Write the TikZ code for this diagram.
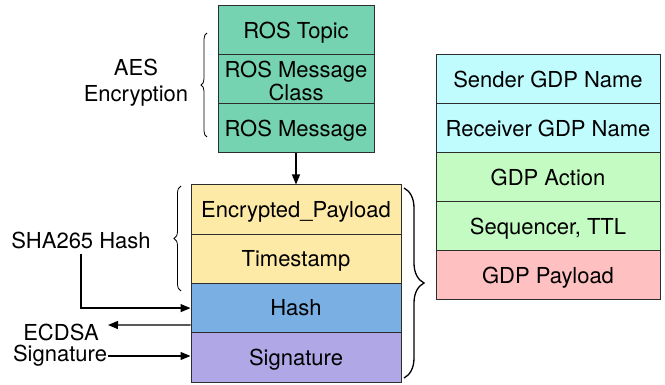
\documentclass[tikz,border=0pt]{standalone}
\usepackage{fontspec}
\setmainfont{TeX Gyre Heros}
\usetikzlibrary{arrows.meta,decorations.pathreplacing}
\definecolor{cteal}{RGB}{118,211,178}
\definecolor{cyel}{RGB}{253,234,166}
\definecolor{cblue}{RGB}{122,175,227}
\definecolor{cpurp}{RGB}{176,168,230}
\definecolor{ccyan}{RGB}{192,252,254}
\definecolor{cgrn}{RGB}{196,251,194}
\definecolor{cpink}{RGB}{254,192,192}
\definecolor{cedge}{RGB}{45,45,45}
\tikzset{
  x=1pt, y=-1pt,
  field/.style={draw=cedge, line width=1pt, inner sep=0pt, minimum height=49.25pt, align=center,
    font=\fontsize{22}{23.5}\selectfont, text height=15.8pt, text depth=0pt},
  tealf/.style={field, fill=cteal, minimum width=156pt, minimum height=49pt},
  yelf/.style={field, minimum width=210pt},
  gdpf/.style={field, minimum width=224pt, minimum height=49pt},
  lbl/.style={inner sep=1pt, align=center, font=\fontsize{22}{26}\selectfont},
  conn/.style={line width=1.2pt, -{Triangle[length=10pt,width=8pt]}},
  bracestyle/.style={decorate, decoration={brace, amplitude=#1}},
}
\begin{document}
\begin{tikzpicture}
\useasboundingbox (0,0) rectangle (665,385);
% ROS stack
\node[tealf] (topic) at (296,30.5) {ROS Topic};
\node[draw=cedge, line width=1pt, fill=cteal, minimum width=156pt, minimum height=49pt] (cls) at (296,79.5) {};
\node[align=center, inner sep=0pt, font=\fontsize{22}{23.5}\selectfont] (clstxt) at (296,81) {ROS Message\\Class};
\node[tealf] (msg) at (296,128.5) {ROS Message};
% Signed packet
\node[yelf, fill=cyel] (enc) at (296,209.6) {Encrypted\_Payload};
\node[yelf, fill=cyel] (ts) at (296,258.9) {Timestamp};
\node[yelf, fill=cblue] (hash) at (296,308.1) {Hash};
\node[yelf, fill=cpurp] (sign) at (296,357.4) {Signature};
% GDP stack
\node[gdpf, fill=ccyan] (snd) at (548,79.5) {Sender GDP Name};
\node[gdpf, fill=ccyan] (rcv) at (548,128.5) {Receiver GDP Name};
\node[gdpf, fill=cgrn] (act) at (548,177.5) {GDP Action};
\node[gdpf, fill=cgrn] (seq) at (548,226.5) {Sequencer, TTL};
\node[gdpf, fill=cpink] (pay) at (548,275.5) {GDP Payload};
% labels
\node[lbl] (aes) at (136,83) {AES\\Encryption};
\node[lbl] (sha) at (81,240) {SHA265 Hash};
\node[lbl] (ecdsa) at (61,332) {ECDSA};
\node[lbl] (sig) at (60,356) {Signature};
\coordinate (ecdsatip) at (108,325);
% braces
\draw[line width=0.8pt, bracestyle=6pt] (207,137) -- (207,33);
\draw[line width=0.8pt, bracestyle=7pt] (181,291) -- (181,186);
\draw[line width=1.3pt, bracestyle=20pt] (404,188) -- (404,378);
% connectors
\draw[conn] (msg.south) -- (enc.north);
\draw[conn] (81,254) |- (hash.west);
\draw[conn] ([yshift=-17pt]hash.west) -- (ecdsatip);
\draw[conn] (sig.east) -- (sig.east -| sign.west);
\end{tikzpicture}
\end{document}
